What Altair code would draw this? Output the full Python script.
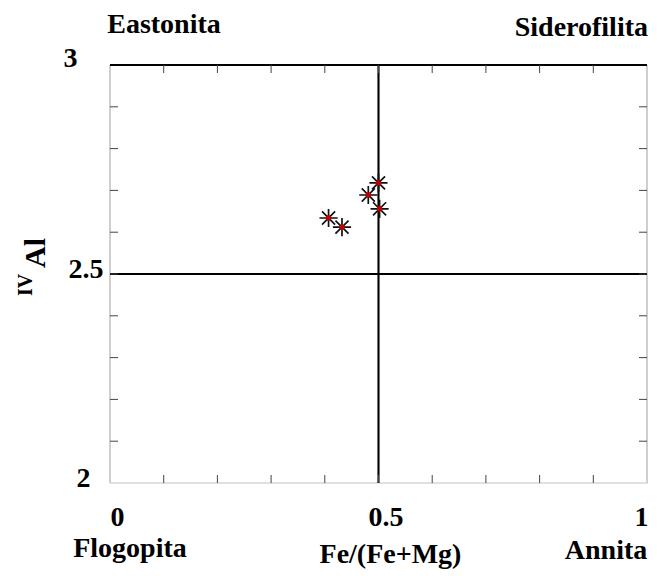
import altair as alt
import pandas as pd

# ---- data ----
FE_RATIO = [0.407, 0.432, 0.481, 0.500, 0.502]   # Fe/(Fe+Mg)
AL_IV = [2.634, 2.612, 2.689, 2.718, 2.656]      # IV Al

X_TICKS = [0.1, 0.2, 0.3, 0.4, 0.5, 0.6, 0.7, 0.8, 0.9]
Y_TICKS = [2.1, 2.2, 2.3, 2.4, 2.5, 2.6, 2.7, 2.8, 2.9]
X_LABELS = [0, 0.5, 1]
Y_LABELS = [2, 2.5, 3]

CORNER_NAMES = ["Eastonita", "Siderofilita", "Flogopita", "Annita"]
CORNER_X = [0, 1, 0, 1]
CORNER_Y = [3, 3, 2, 2]

FONT = "Liberation Serif"
FS = 28

pts = pd.DataFrame({"x": FE_RATIO, "y": AL_IV})
xt = pd.DataFrame({"t": X_TICKS})
yt = pd.DataFrame({"t": Y_TICKS})

xs = alt.Scale(domain=[0, 1], nice=False, zero=False)
ys = alt.Scale(domain=[2, 3], nice=False, zero=False)

x_axis = alt.Axis(values=X_LABELS, format="~g", ticks=False, tickSize=0, domain=False, grid=False,
                  labelFont=FONT, labelFontWeight="bold", labelFontSize=FS,
                  labelColor="black", labelPadding=20,
                  labelOffset={"condition": {"test": "datum.value >= 1", "value": 1}, "value": 7},
                  labelAlign={"condition": {"test": "datum.value >= 1", "value": "right"}, "value": "center"},
                  labelFlush=False, labelOverlap=False, labelBound=False,
                  title="Fe/(Fe+Mg)", titleFont=FONT, titleFontWeight="bold",
                  titleFontSize=FS, titleColor="black", titleX=280, titleY=79,
                  titleBaseline="alphabetic", titleAlign="center")
y_axis = alt.Axis(values=Y_LABELS, format="~g", ticks=False, tickSize=0, domain=False, grid=False,
                  labelFont=FONT, labelFontWeight="bold", labelFontSize=FS,
                  labelColor="black",
                  labelPadding={"condition": [{"test": "datum.value >= 3", "value": 33},
                                              {"test": "datum.value <= 2", "value": 20}],
                                "value": 7},
                  labelOffset={"condition": {"test": "datum.value >= 3", "value": -7}, "value": -5},
                  labelFlush=False, labelOverlap=False, labelBound=False,
                  labelBaseline="middle", title="")

base = alt.Chart(pts)

stars = base.mark_point(
    shape="M0,-1L0,1M-1,0L1,0M-0.72,-0.72L0.72,0.72M-0.72,0.72L0.72,-0.72",
    size=330, stroke="#111111", strokeWidth=1.7, filled=False, opacity=1,
).encode(
    x=alt.X("x:Q", scale=xs, axis=x_axis),
    y=alt.Y("y:Q", scale=ys, axis=y_axis),
)
centers = base.mark_circle(size=30, color="#c00000", opacity=1).encode(
    x=alt.X("x:Q", scale=xs), y=alt.Y("y:Q", scale=ys)
)

# frame
frame_top = alt.Chart(pts).mark_rule(color="black", strokeWidth=1.6).encode(
    x=alt.datum(0, scale=xs), x2=alt.datum(1), y=alt.datum(3, scale=ys))
frame_bottom = alt.Chart(pts).mark_rule(color="#e0e0e0", strokeWidth=1).encode(
    x=alt.datum(0, scale=xs), x2=alt.datum(1), y=alt.datum(2, scale=ys))
frame_left = alt.Chart(pts).mark_rule(color="#cfcfcf", strokeWidth=1.2).encode(
    x=alt.datum(0, scale=xs), y=alt.datum(2, scale=ys), y2=alt.datum(3))
frame_right = alt.Chart(pts).mark_rule(color="#cfcfcf", strokeWidth=1.2).encode(
    x=alt.datum(1, scale=xs), y=alt.datum(2, scale=ys), y2=alt.datum(3))

# dividing lines
vline = alt.Chart(pts).mark_rule(color="black", strokeWidth=1.3).encode(
    x=alt.datum(0.5, scale=xs), y=alt.datum(2, scale=ys), y2=alt.datum(3))
hline = alt.Chart(pts).mark_rule(color="black", strokeWidth=1.3).encode(
    x=alt.datum(0, scale=xs), x2=alt.datum(1), y=alt.datum(2.5, scale=ys))

# inward ticks (clipped half)
tick_style = dict(color="#444444", thickness=1, size=16, clip=True, opacity=1)
tb = alt.Chart(xt).mark_tick(orient="vertical", **tick_style).encode(
    x=alt.X("t:Q", scale=xs), y=alt.datum(2, scale=ys))
tt = alt.Chart(xt).mark_tick(orient="vertical", **tick_style).encode(
    x=alt.X("t:Q", scale=xs), y=alt.datum(3, scale=ys))
tl = alt.Chart(yt).mark_tick(orient="horizontal", **tick_style).encode(
    y=alt.Y("t:Q", scale=ys), x=alt.datum(0, scale=xs))
tr = alt.Chart(yt).mark_tick(orient="horizontal", **tick_style).encode(
    y=alt.Y("t:Q", scale=ys), x=alt.datum(1, scale=xs))

# corner names
txt_style = dict(font=FONT, fontWeight="bold", fontSize=FS, color="black")


def corner(i, dx, dy, align):
    d = pd.DataFrame({"name": [CORNER_NAMES[i]], "x": [CORNER_X[i]], "y": [CORNER_Y[i]]})
    return alt.Chart(d).mark_text(dx=dx, dy=dy, align=align, baseline="alphabetic",
                                  **txt_style).encode(
        x=alt.X("x:Q", scale=xs), y=alt.Y("y:Q", scale=ys), text="name:N")


east = corner(0, 54, -32, "center")
side = corner(1, 1, -29, "right")
flog = corner(2, 20, 74, "center")
anni = corner(3, -41, 76, "center")

# y title: superscript IV + Al
ytitle_df = pd.DataFrame({"t": ["Al", "IV"], "x": [0, 0], "y": [2.5, 2.5]})
al = alt.Chart(ytitle_df[ytitle_df.t == "Al"]).mark_text(
    angle=270, dx=21, dy=-65, align="center", baseline="alphabetic",
    font=FONT, fontWeight="bold", fontSize=30, color="black"
).encode(x=alt.X("x:Q", scale=xs), y=alt.Y("y:Q", scale=ys), text="t:N")
iv = alt.Chart(ytitle_df[ytitle_df.t == "IV"]).mark_text(
    angle=270, dx=-11, dy=-78, align="center", baseline="alphabetic",
    font=FONT, fontWeight="bold", fontSize=20, color="black"
).encode(x=alt.X("x:Q", scale=xs), y=alt.Y("y:Q", scale=ys), text="t:N")

chart = alt.layer(
    frame_bottom, frame_left, frame_right, frame_top, vline, hline,
    tb, tt, tl, tr, stars, centers, east, side, flog, anni, al, iv
).properties(
    width=537, height=418,
    autosize=alt.AutoSizeParams(type="none"),
    padding={"left": 102, "top": 57, "right": 2, "bottom": 87},
).configure_view(stroke=None).configure(background="white")

chart.save("out.html", embed_options={"renderer": "svg", "actions": False})
